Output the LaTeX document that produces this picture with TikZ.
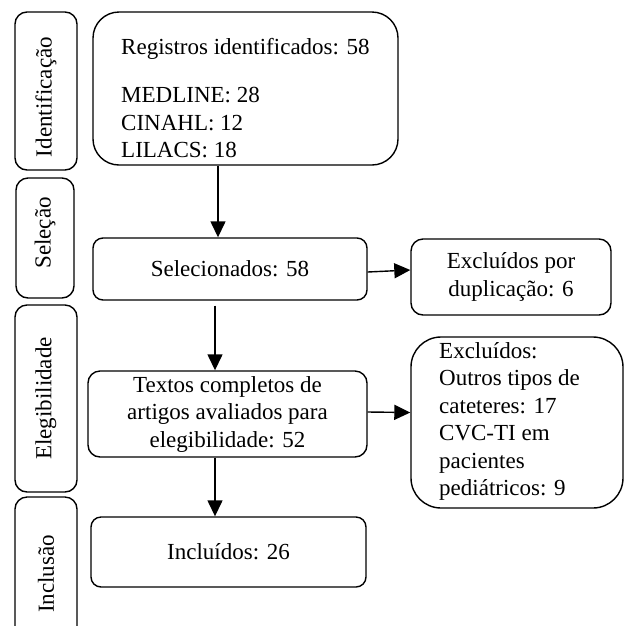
\documentclass[tikz,border=0pt]{standalone}
\usepackage{fontspec}
\setmainfont{Liberation Serif}
\usetikzlibrary{arrows.meta}
\tikzset{
  caixa/.style={draw,line width=1.4pt,rounded corners=#1,inner sep=0pt},
  caixa/.default=10pt,
  fase/.style={caixa=12pt,minimum width=62pt},
  seta/.style={line width=1.4pt,-{Triangle[length=16pt,width=15pt]}},
  texto/.style={inner sep=0pt,font=\fontsize{23}{27.5}\selectfont}
}
\begin{document}
\begin{tikzpicture}[x=1pt,y=-1pt]
\clip (0,0) rectangle (626,625);
% fases
\node[fase,minimum height=158pt](fId) at (46,91){};
\node[fase,minimum width=58pt,minimum height=120pt](fSel) at (45,238){};
\node[fase,minimum height=187pt](fEle) at (46,398.5){};
\node[fase,minimum height=150pt](fInc) at (46,572){};
\node[texto,rotate=90] at ([yshift=-6pt]fId.center){Identificação};
\node[texto,rotate=90] at ([yshift=5pt]fSel.center){Seleção};
\node[texto,rotate=90] at (fEle){Elegibilidade};
\node[texto,rotate=90] at ([yshift=-2pt]fInc.center){Inclusão};
% caixas
\node[caixa=26pt,minimum width=305pt,minimum height=153pt](reg) at (245.5,88.5){};
\node[texto,anchor=north west,align=left] at (121,38){Registros identificados: 58\\[21pt]MEDLINE: 28\\CINAHL: 12\\LILACS: 18};
\node[caixa,minimum width=274pt,minimum height=62pt,texto](sel) at (230,269){Selecionados: 58};
\node[caixa=12pt,minimum width=200pt,minimum height=76pt,texto,align=center](dup) at (511,277){Excluídos por\\duplicação: 6};
\node[caixa=12pt,minimum width=279pt,minimum height=86pt,texto,align=center](txt) at (227.5,414){Textos completos de\\artigos avaliados para\\elegibilidade: 52};
\node[caixa=30pt,minimum width=212pt,minimum height=171pt](exc) at (517,422.5){};
\node[texto,anchor=north west,align=left] at (439,342){Excluídos:\\Outros tipos de\\cateteres: 17\\CVC-TI em\\pacientes\\pediátricos: 9};
\node[caixa,minimum width=275pt,minimum height=70pt,texto](inc) at (228.5,552){Incluídos: 26};
% setas
\draw[seta]([xshift=-27.5pt]reg.south)--([xshift=-27.5pt]reg.south |- sel.north);
\draw[seta]([xshift=-15pt,yshift=-5pt]sel.south)--([xshift=-15pt]sel.south |- txt.north);
\draw[seta]([xshift=-12.5pt]txt.south)--([xshift=-12.5pt]txt.south |- inc.north);
\draw[seta]([yshift=-3pt]sel.east)--([yshift=7pt]dup.west);
\draw[seta]([yshift=2pt]txt.east)--([yshift=10pt]exc.west);
\end{tikzpicture}
\end{document}
